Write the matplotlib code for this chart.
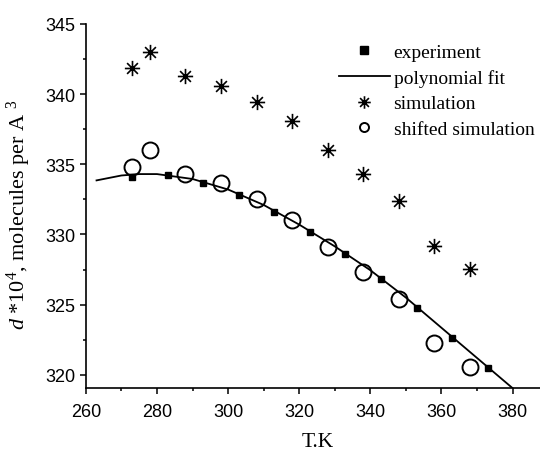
import numpy as np
import matplotlib
matplotlib.use("Agg")
import matplotlib.pyplot as plt
from matplotlib.path import Path

# data
exp_T = [273, 283, 293, 303, 313, 323, 333, 343, 353, 363, 373]
exp_d = [334.1, 334.2, 333.65, 332.8, 331.6, 330.2, 328.6, 326.8, 324.75, 322.6, 320.5]

fit_T = [263, 270, 275, 280, 290, 300, 310, 320, 330, 340, 350, 360, 370, 380]
fit_d = [333.85, 334.2, 334.3, 334.3, 333.95, 333.2, 332.1, 330.7, 329.15,
         327.45, 325.5, 323.35, 321.2, 319.05]

sim_T = [273, 278, 288, 298, 308, 318, 328, 338, 348, 358, 368]
sim_d = [341.85, 343.0, 341.3, 340.55, 339.45, 338.1, 336.0, 334.3, 332.4, 329.2, 327.55]

shift_T = [273, 278, 288, 298, 308, 318, 328, 338, 348, 358, 368]
shift_d = [334.8, 336.0, 334.3, 333.7, 332.5, 331.05, 329.1, 327.3, 325.4, 322.3, 320.55]

x_ticks = [260, 280, 300, 320, 340, 360, 380]
y_ticks = [320, 325, 330, 335, 340, 345]

plt.rcParams["mathtext.fontset"] = "custom"
plt.rcParams["mathtext.rm"] = "Liberation Serif"
plt.rcParams["mathtext.it"] = "Liberation Serif:italic"

# asterisk marker with 8 spokes
s = 0.7071
star = Path([(0, -1), (0, 1), (-1, 0), (1, 0), (-s, -s), (s, s), (-s, s), (s, -s)],
            [Path.MOVETO, Path.LINETO] * 4)

fig = plt.figure(figsize=(5.4, 4.52), dpi=100)
ax = fig.add_axes([0.159, 0.139, 0.841, 0.806])

ax.plot(exp_T, exp_d, ls="none", marker="s", ms=5, mfc="black", mec="black",
        label="experiment", zorder=4)
ax.plot(fit_T, fit_d, color="black", lw=1.3, label="polynomial fit", zorder=3)
ax.plot(sim_T, sim_d, ls="none", marker=star, ms=11, mec="black", mew=1.2,
        label="simulation")
ax.plot(shift_T, shift_d, ls="none", marker="o", ms=11.5, mfc="none", mec="black",
        mew=1.4, label="shifted simulation", zorder=5)

ax.set_xlim(260, 387.7)
ax.set_ylim(319.05, 345)
ax.set_xticks(x_ticks)
ax.set_yticks(y_ticks)
ax.set_xticks(np.arange(270, 390, 20), minor=True)
ax.set_yticks(np.arange(322.5, 345, 5), minor=True)

for sp in ["top", "right"]:
    ax.spines[sp].set_visible(False)
for sp in ["left", "bottom"]:
    ax.spines[sp].set_linewidth(1.2)

ax.tick_params(which="major", direction="out", length=4.5, width=1.1)
ax.tick_params(which="minor", direction="out", length=2.5, width=1.1)
ax.tick_params(axis="x", which="major", pad=6.5)
ax.tick_params(axis="y", which="major", pad=3)
for lab in ax.get_xticklabels() + ax.get_yticklabels():
    lab.set_family("Liberation Sans")
    lab.set_fontsize(13)

ax.set_xlabel("T.K", family="Liberation Serif", fontsize=15.5)
ax.xaxis.set_label_coords(0.51, -0.121)
ax.set_ylabel(r"$d$ *10$^4$, molecules per A $^3$", family="Liberation Serif",
              fontsize=16)
ax.yaxis.set_label_coords(-0.117, 0.478)

leg = fig.legend(loc="upper left", bbox_to_anchor=(0.628, 0.902), frameon=False,
                 prop={"family": "Liberation Serif", "size": 14},
                 handlelength=2.6, handletextpad=0.2, labelspacing=0.41,
                 borderpad=0, borderaxespad=0)
hs = leg.legend_handles
hs[0].set_markersize(5.5)
hs[2].set_markersize(9)
hs[3].set_markersize(6.5)

fig.savefig("out.png", dpi=100)
